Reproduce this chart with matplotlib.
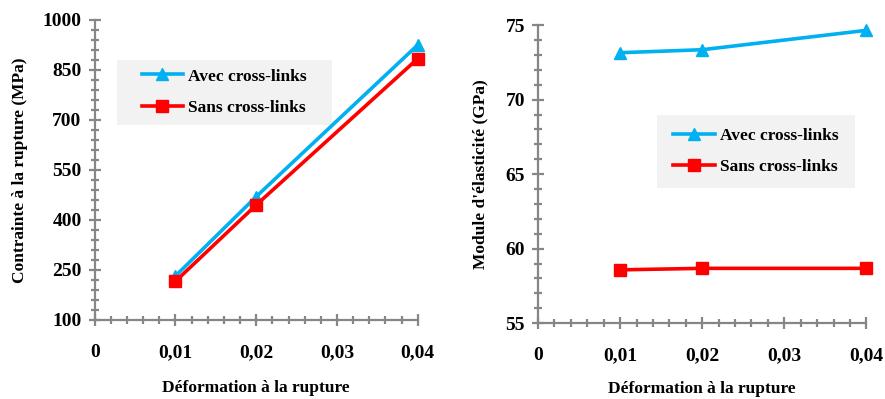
import matplotlib
matplotlib.use("Agg")
import matplotlib.pyplot as plt
from matplotlib.patches import Rectangle
from matplotlib.ticker import MultipleLocator, FuncFormatter

plt.rcParams['font.family'] = ['Liberation Serif', 'DejaVu Serif']
plt.rcParams['font.weight'] = 'bold'

deformation = [0.01, 0.02, 0.04]

# contrainte a la rupture (MPa)
contrainte_avec = [232, 470, 925]
contrainte_sans = [216, 445, 884]

# module d'elasticite (GPa)
module_avec = [73.15, 73.35, 74.65]
module_sans = [58.58, 58.68, 58.68]

BLUE = '#00b0f0'
RED = '#ff0000'
GREY = '#868686'

fig = plt.figure(figsize=(8.85, 3.99), dpi=100)
ax1 = fig.add_axes([0.107, 0.198, 0.365, 0.752])
ax2 = fig.add_axes([0.608, 0.190, 0.371, 0.747])


def comma(v, pos):
    if abs(v) < 1e-9:
        return '0'
    return ('%.2f' % v).replace('.', ',')


def style_axes(ax, ymaj, ymin, y0):
    ax.set_facecolor('none')
    for s in ['top', 'right']:
        ax.spines[s].set_visible(False)
    for s in ['left', 'bottom']:
        ax.spines[s].set_color(GREY)
        ax.spines[s].set_linewidth(1.6)
    ax.xaxis.set_major_locator(MultipleLocator(0.01))
    ax.xaxis.set_minor_locator(MultipleLocator(0.002))
    ax.xaxis.set_major_formatter(FuncFormatter(comma))
    ax.yaxis.set_major_locator(MultipleLocator(ymaj, offset=y0))
    ax.yaxis.set_minor_locator(MultipleLocator(ymin, offset=y0))
    ax.tick_params(which='major', direction='inout', length=9, width=1.6,
                   color=GREY, labelsize=14)
    ax.tick_params(which='minor', direction='inout', length=6, width=1.6,
                   color=GREY)
    ax.tick_params(axis='x', which='major', pad=13)
    ax.tick_params(axis='y', which='major', pad=5)
    ax.set_xlim(0, 0.04)


def add_legend(ax, box):
    x0, y0, w, h = box
    fig.patches.append(Rectangle((x0, y0), w, h, transform=fig.transFigure,
                                 facecolor='#f2f2f2', edgecolor='none', zorder=-1))
    ax.legend(loc='center', bbox_to_anchor=(x0 + w / 2, y0 + h / 2),
              bbox_transform=fig.transFigure, frameon=False,
              prop={'size': 12.5, 'weight': 'bold'}, handlelength=2.4,
              labelspacing=0.9, handletextpad=0.3)


ax1.plot(deformation, contrainte_avec, color=BLUE, lw=2.6, marker='^', ms=9,
         label='Avec cross-links', clip_on=False)
ax1.plot(deformation, contrainte_sans, color=RED, lw=2.6, marker='s', ms=8,
         label='Sans cross-links', clip_on=False)
style_axes(ax1, 150, 30, 100)
ax1.set_ylim(100, 1000)
ax1.set_xlabel('Déformation à la rupture', fontsize=12.5, fontweight='bold')
ax1.set_ylabel('Contrainte à la rupture (MPa)', fontsize=12.5, fontweight='bold')
ax1.xaxis.set_label_coords(0.5, -0.2)
ax1.yaxis.set_label_coords(-0.207, 0.5)
add_legend(ax1, (0.132, 0.687, 0.243, 0.163))

ax2.plot(deformation, module_avec, color=BLUE, lw=2.6, marker='^', ms=9,
         label='Avec cross-links', clip_on=False)
ax2.plot(deformation, module_sans, color=RED, lw=2.6, marker='s', ms=8,
         label='Sans cross-links', clip_on=False)
style_axes(ax2, 5, 1, 55)
ax2.set_ylim(55, 75)
ax2.set_xlabel('Déformation à la rupture', fontsize=12.5, fontweight='bold')
ax2.set_ylabel("Module d'élasticité (GPa)", fontsize=12.5, fontweight='bold')
ax2.xaxis.set_label_coords(0.5, -0.195)
ax2.yaxis.set_label_coords(-0.152, 0.5)
add_legend(ax2, (0.742, 0.529, 0.224, 0.183))

fig.savefig('out.png', dpi=100)
